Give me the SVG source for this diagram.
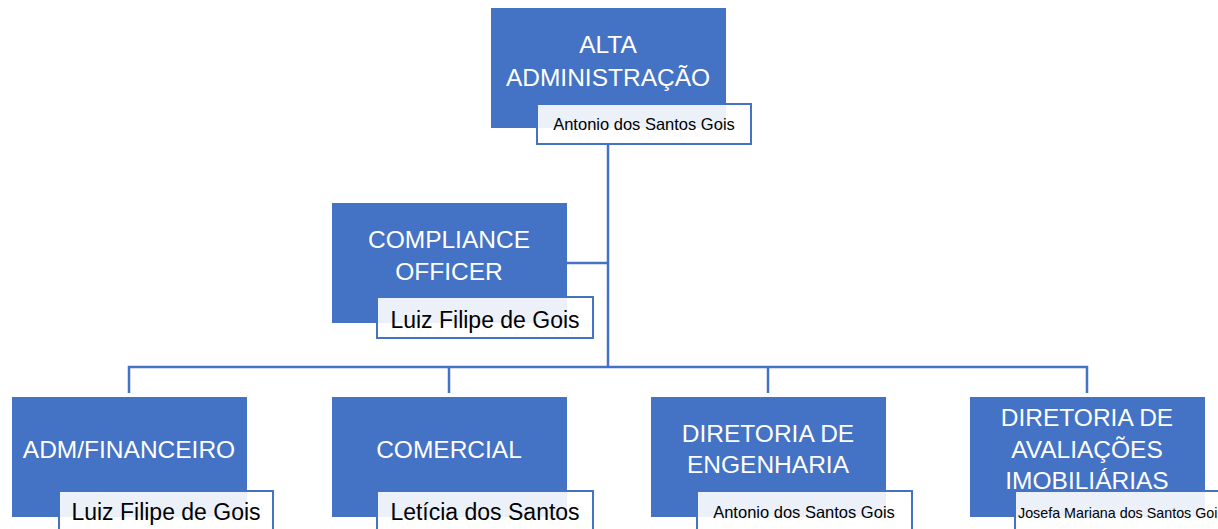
<svg xmlns="http://www.w3.org/2000/svg" width="1218" height="529" viewBox="0 0 1218 529">
<style>
.box{fill:#4472C4;}
.nm{fill:#FFFFFF;fill-opacity:0.9;stroke:#4472C4;stroke-width:2;}
.t{font-family:"Liberation Sans",Arial,sans-serif;font-size:24.5px;fill:#FFFFFF;text-anchor:middle;}
.n{font-family:"Liberation Sans",Arial,sans-serif;fill:#000000;text-anchor:middle;}
.ns{font-family:"Liberation Sans",Arial,sans-serif;fill:#000000;text-anchor:start;}
.c{fill:none;stroke:#4472C4;stroke-width:2.5;}
</style>
<rect width="1218" height="529" fill="#FFFFFF"/>
<g id="connectors">
<path class="c" d="M608,144 V367"/>
<path class="c" d="M567,263 H608"/>
<path class="c" d="M129,393 V367 H1087 V393"/>
<path class="c" d="M449,367 V393"/>
<path class="c" d="M768,367 V393"/>
</g>
<g id="node-alta">
<rect class="box" x="491" y="8" width="235" height="120"/>
<text class="t" x="608" y="53">ALTA</text>
<text class="t" x="608" y="86">ADMINISTRAÇÃO</text>
<rect class="nm" x="537" y="104" width="214" height="40"/>
<text class="n" x="644" y="130" font-size="16.5">Antonio dos Santos Gois</text>
</g>
<g id="node-compliance">
<rect class="box" x="332" y="203" width="235" height="120"/>
<text class="t" x="449" y="248">COMPLIANCE</text>
<text class="t" x="449" y="280">OFFICER</text>
<rect class="nm" x="377" y="297" width="216" height="41"/>
<text class="n" x="485" y="328" font-size="23">Luiz Filipe de Gois</text>
</g>
<g id="node-adm">
<rect class="box" x="12" y="397" width="235" height="120"/>
<text class="t" x="129" y="458">ADM/FINANCEIRO</text>
<rect class="nm" x="59" y="491" width="214" height="42"/>
<text class="n" x="166" y="520" font-size="23">Luiz Filipe de Gois</text>
</g>
<g id="node-comercial">
<rect class="box" x="332" y="397" width="235" height="120"/>
<text class="t" x="449" y="458">COMERCIAL</text>
<rect class="nm" x="377" y="491" width="216" height="42"/>
<text class="n" x="485" y="520" font-size="23">Letícia dos Santos</text>
</g>
<g id="node-engenharia">
<rect class="box" x="651" y="397" width="235" height="120"/>
<text class="t" x="768" y="442">DIRETORIA DE</text>
<text class="t" x="768" y="473">ENGENHARIA</text>
<rect class="nm" x="697" y="491" width="215" height="42"/>
<text class="n" x="804" y="518" font-size="16.5">Antonio dos Santos Gois</text>
</g>
<g id="node-avaliacoes">
<rect class="box" x="970" y="397" width="235" height="120"/>
<text class="t" x="1087" y="426">DIRETORIA DE</text>
<text class="t" x="1087" y="458">AVALIAÇÕES</text>
<text class="t" x="1087" y="489">IMOBILIÁRIAS</text>
<rect class="nm" x="1015" y="491" width="220" height="42"/>
<text class="ns" x="1018" y="518" font-size="14.3">Josefa Mariana dos Santos Gois</text>
</g>
</svg>
